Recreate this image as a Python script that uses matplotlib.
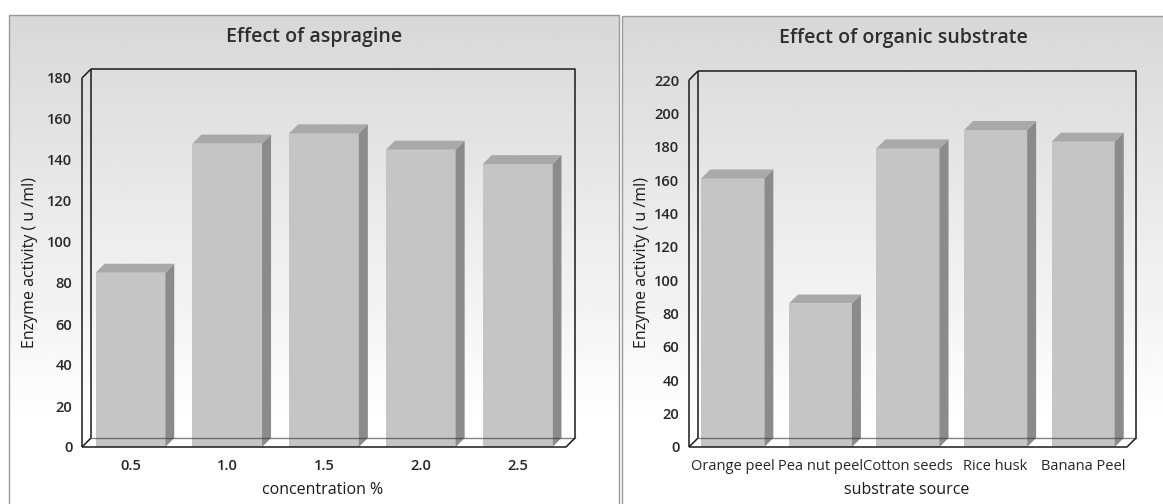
import numpy as np
import matplotlib.pyplot as plt
from matplotlib.patches import Polygon, Rectangle

# data
conc_labels = ['0.5', '1.0', '1.5', '2.0', '2.5']
conc_activity = [85, 148, 153, 145, 138]

substrate_labels = ['Orange peel', 'Pea nut peel', 'Cotton seeds', 'Rice husk', 'Banana Peel']
substrate_activity = [161, 86, 179, 190, 183]

W, H = 1163, 504
DEPTH = 9  # pixels of the fake 3d depth

plt.rcParams['font.family'] = ['Open Sans', 'DejaVu Sans']
fig = plt.figure(figsize=(W / 100, H / 100), dpi=100)


def px_box(x0, y0, x1, y1):
    # pixel box (origin top-left) -> figure fraction rect
    return [x0 / W, 1 - y1 / H, (x1 - x0) / W, (y1 - y0) / H]


# background with the two grey panels
bg = fig.add_axes([0, 0, 1, 1], zorder=0)
bg.set_xlim(0, W)
bg.set_ylim(H, 0)
bg.axis('off')
grad = np.linspace(0, 1, 256).reshape(-1, 1)
grad = np.clip(grad * 1.2, 0, 1)
for x0, y0, x1 in [(9, 15, 619), (622, 16, W + 5)]:
    bg.imshow(grad, cmap='gray', vmin=-5.5, vmax=1, aspect='auto',
              extent=(x0, x1, H + 5, y0), zorder=0)
    bg.add_patch(Rectangle((x0, y0), x1 - x0, H + 5 - y0, fill=False,
                           edgecolor='#9a9a9a', lw=1.0, zorder=1))


def draw_chart(box, labels, values, ymax, ystep, bold_xticks):
    ax = fig.add_axes(px_box(*box), zorder=2)
    ax.patch.set_alpha(0)
    n = len(values)
    ax.set_xlim(-0.5, n - 0.5)
    ax.set_ylim(0, ymax)
    for s in ax.spines.values():
        s.set_visible(False)
    ax.set_yticks(np.arange(0, ymax + 1, ystep))
    ax.set_xticks(range(n))
    ax.set_xticklabels(labels)
    ax.tick_params(length=0, colors='#262626')
    ax.tick_params(axis='y', pad=7, labelsize=10.5)
    ax.tick_params(axis='x', pad=9, labelsize=10.5)
    for t in ax.get_yticklabels():
        t.set_fontweight(600)
    if bold_xticks:
        for t in ax.get_xticklabels():
            t.set_fontweight(600)

    dx = DEPTH / ((box[2] - box[0]) / n)
    dy = DEPTH / ((box[3] - box[1]) / ymax)
    x0, x1 = -0.5, n - 0.5
    kw = dict(color='#1a1a1a', lw=1.1, clip_on=False, solid_capstyle='butt')

    # floor
    ax.add_patch(Polygon([(x0, 0), (x1, 0), (x1 + dx, dy), (x0 + dx, dy)],
                         closed=True, facecolor='white', edgecolor='none',
                         clip_on=False, zorder=1))
    # back wall outline
    ax.plot([x0 + dx, x1 + dx, x1 + dx], [ymax + dy, ymax + dy, dy], zorder=2, **kw)
    ax.plot([x0 + dx, x0 + dx], [dy, ymax + dy], zorder=2, **kw)
    # front axes
    ax.plot([x0, x0], [0, ymax], zorder=2, **kw)
    ax.plot([x0, x0 + dx], [ymax, ymax + dy], zorder=2, **kw)
    ax.plot([x0, x0 + dx], [0, dy], zorder=2, **kw)

    w = 0.72
    for i, v in enumerate(values):
        l, r = i - w / 2, i + w / 2
        ax.add_patch(Rectangle((l, 0), w, v, facecolor='#c5c5c5',
                               edgecolor='none', zorder=3, clip_on=False))
        ax.add_patch(Polygon([(r, 0), (r + dx, dy), (r + dx, v + dy), (r, v)],
                             closed=True, facecolor='#8b8b8b', edgecolor='none',
                             zorder=3, clip_on=False))
        ax.add_patch(Polygon([(l, v), (r, v), (r + dx, v + dy), (l + dx, v + dy)],
                             closed=True, facecolor='#a9a9a9', edgecolor='none',
                             zorder=3, clip_on=False))
    # back floor line shows through the bars
    ax.plot([x0 + dx, x1 + dx], [dy, dy], color='#333333', lw=1.0, alpha=0.6,
            clip_on=False, zorder=4)
    # front floor edge
    ax.plot([x0, x1, x1 + dx], [0, 0, dy], zorder=4, **kw)
    return ax


draw_chart((82, 78, 566, 447), conc_labels, conc_activity, 180, 20, True)
draw_chart((689, 80, 1127, 447), substrate_labels, substrate_activity, 220, 20, False)

# titles and axis titles
title_kw = dict(fontsize=14, fontweight=600, color='#2e2e2e', ha='center', va='center')
fig.text(314 / W, 1 - 37 / H, 'Effect of aspragine', **title_kw)
fig.text(903 / W, 1 - 38 / H, 'Effect of organic substrate', **title_kw)

lab_kw = dict(fontsize=11.5, color='#1a1a1a', ha='center', va='center')
fig.text(323 / W, 1 - 490 / H, 'concentration %', **lab_kw)
fig.text(907 / W, 1 - 490 / H, 'substrate source', **lab_kw)
fig.text(30 / W, 1 - 263 / H, 'Enzyme activity ( u /ml)', rotation=90, **lab_kw)
fig.text(642 / W, 1 - 263 / H, 'Enzyme activity ( u /ml)', rotation=90, **lab_kw)

fig.savefig('out.png', dpi=100)
